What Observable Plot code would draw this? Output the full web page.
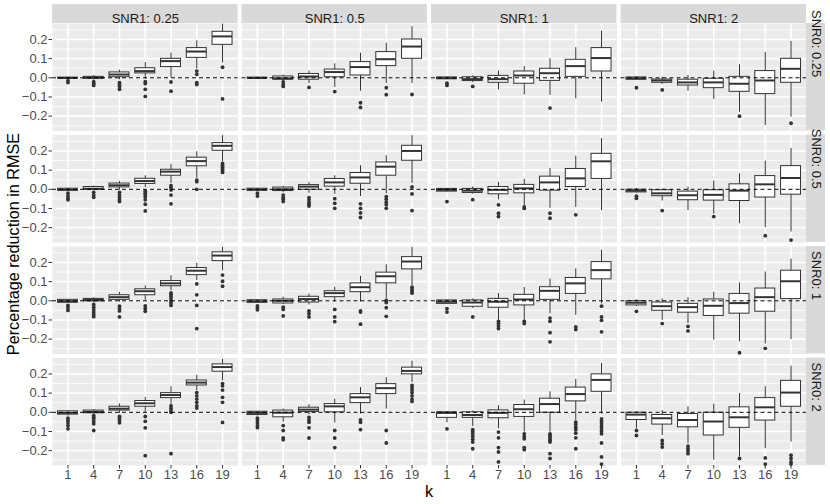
<!DOCTYPE html>
<html>
<head>
<meta charset="utf-8">
<script src="https://cdn.jsdelivr.net/npm/d3@7"></script>
<script src="https://cdn.jsdelivr.net/npm/@observablehq/plot@0.6"></script>
<style>
  html, body { margin: 0; padding: 0; background: white; }
  #chart { width: 830px; height: 504px; }
</style>
</head>
<body>
<div id="chart"></div>
<script>
// ---- categories ----
const snr1Levels = ["0.25", "0.5", "1", "2"];   // columns
const snr0Levels = ["0.25", "0.5", "1", "2"];   // rows
const kLevels = [1, 4, 7, 10, 13, 16, 19];
const yTicks = [-0.2, -0.1, 0, 0.1, 0.2];
const yMinorTicks = [-0.25, -0.15, -0.05, 0.05, 0.15, 0.25];

// ---- box statistics: one row of 7 (k) per facet, facets ordered SNR0 row by SNR1 column ----
const whiskerLow = [
  [-0.006, -0.012, -0.010, -0.007, 0.000, 0.047, 0.077],
  [-0.004, -0.016, -0.030, -0.050, -0.070, -0.030, -0.030],
  [-0.010, -0.025, -0.063, -0.089, -0.092, -0.110, -0.127],
  [-0.012, -0.035, -0.070, -0.113, -0.180, -0.249, -0.205],
  [-0.010, -0.008, -0.003, 0.009, 0.030, 0.057, 0.144],
  [-0.010, -0.018, -0.021, -0.026, -0.038, -0.024, 0.031],
  [-0.014, -0.025, -0.055, -0.085, -0.099, -0.094, -0.111],
  [-0.020, -0.061, -0.111, -0.130, -0.180, -0.199, -0.223],
  [-0.014, -0.010, -0.007, 0.002, 0.053, 0.105, 0.157],
  [-0.013, -0.020, -0.022, -0.007, -0.007, 0.010, 0.079],
  [-0.020, -0.040, -0.102, -0.102, -0.067, -0.076, -0.016],
  [-0.030, -0.102, -0.119, -0.205, -0.214, -0.225, -0.202],
  [-0.020, -0.010, -0.005, -0.002, 0.040, 0.112, 0.164],
  [-0.020, -0.052, -0.014, -0.057, -0.009, 0.017, 0.155],
  [-0.055, -0.074, -0.086, -0.103, -0.103, -0.043, -0.009],
  [-0.085, -0.121, -0.164, -0.250, -0.233, -0.190, -0.155]
];
const quartile1 = [
  [-0.003, -0.005, 0.003, 0.023, 0.056, 0.104, 0.172],
  [-0.002, -0.010, -0.010, 0.003, 0.012, 0.061, 0.099],
  [-0.007, -0.017, -0.026, -0.031, -0.016, 0.005, 0.033],
  [-0.010, -0.026, -0.040, -0.054, -0.073, -0.085, -0.026],
  [-0.007, -0.002, 0.010, 0.028, 0.071, 0.120, 0.201],
  [-0.007, -0.009, -0.002, 0.014, 0.029, 0.071, 0.149],
  [-0.012, -0.019, -0.026, -0.021, -0.007, 0.012, 0.054],
  [-0.016, -0.036, -0.057, -0.059, -0.061, -0.043, -0.028],
  [-0.010, -0.003, 0.005, 0.029, 0.076, 0.134, 0.207],
  [-0.010, -0.014, -0.009, 0.019, 0.045, 0.091, 0.164],
  [-0.016, -0.031, -0.036, -0.024, 0.005, 0.036, 0.112],
  [-0.024, -0.052, -0.062, -0.079, -0.067, -0.057, 0.009],
  [-0.012, -0.005, 0.009, 0.029, 0.074, 0.140, 0.212],
  [-0.014, -0.026, 0.002, 0.000, 0.048, 0.095, 0.198],
  [-0.029, -0.029, -0.031, -0.024, -0.002, 0.057, 0.107],
  [-0.040, -0.064, -0.078, -0.121, -0.081, -0.043, 0.029]
];
const median = [
  [-0.001, 0.001, 0.017, 0.035, 0.087, 0.137, 0.216],
  [-0.001, -0.003, 0.007, 0.030, 0.056, 0.097, 0.163],
  [-0.002, -0.007, -0.007, 0.012, 0.024, 0.061, 0.103],
  [-0.003, -0.014, -0.024, -0.024, -0.031, -0.014, 0.047],
  [-0.002, 0.003, 0.021, 0.043, 0.092, 0.147, 0.227],
  [-0.002, 0.000, 0.014, 0.036, 0.062, 0.118, 0.200],
  [-0.003, -0.007, -0.003, 0.005, 0.036, 0.057, 0.146],
  [-0.007, -0.021, -0.031, -0.029, -0.007, 0.026, 0.059],
  [-0.002, 0.005, 0.019, 0.050, 0.091, 0.157, 0.236],
  [-0.003, 0.000, 0.009, 0.040, 0.071, 0.128, 0.205],
  [-0.005, -0.009, -0.005, 0.007, 0.052, 0.091, 0.160],
  [-0.010, -0.028, -0.033, -0.026, -0.012, 0.019, 0.102],
  [-0.003, 0.002, 0.019, 0.047, 0.090, 0.155, 0.236],
  [-0.003, -0.002, 0.014, 0.031, 0.078, 0.126, 0.216],
  [-0.003, -0.014, -0.003, 0.016, 0.043, 0.095, 0.169],
  [-0.012, -0.031, -0.040, -0.048, -0.026, 0.026, 0.103]
];
const quartile3 = [
  [0.001, 0.005, 0.028, 0.050, 0.099, 0.155, 0.240],
  [0.001, 0.007, 0.020, 0.043, 0.082, 0.134, 0.200],
  [0.002, 0.003, 0.010, 0.033, 0.047, 0.094, 0.155],
  [0.002, -0.009, -0.010, -0.005, 0.005, 0.035, 0.099],
  [0.003, 0.012, 0.030, 0.055, 0.102, 0.165, 0.241],
  [0.003, 0.009, 0.022, 0.054, 0.085, 0.140, 0.227],
  [0.002, 0.002, 0.012, 0.023, 0.066, 0.106, 0.185],
  [-0.002, -0.005, -0.012, -0.005, 0.026, 0.069, 0.121],
  [0.005, 0.010, 0.029, 0.060, 0.103, 0.171, 0.253],
  [0.003, 0.007, 0.021, 0.050, 0.091, 0.147, 0.228],
  [0.002, 0.002, 0.010, 0.031, 0.071, 0.119, 0.202],
  [-0.002, -0.009, -0.016, 0.007, 0.036, 0.064, 0.157],
  [0.005, 0.009, 0.029, 0.059, 0.100, 0.166, 0.250],
  [0.003, 0.009, 0.024, 0.043, 0.095, 0.147, 0.233],
  [0.000, 0.000, 0.010, 0.038, 0.071, 0.129, 0.198],
  [-0.002, -0.014, -0.009, -0.002, 0.026, 0.074, 0.164]
];
const whiskerHigh = [
  [0.003, 0.012, 0.040, 0.080, 0.129, 0.193, 0.280],
  [0.003, 0.014, 0.035, 0.073, 0.128, 0.180, 0.268],
  [0.004, 0.010, 0.035, 0.059, 0.099, 0.157, 0.243],
  [0.007, 0.003, 0.012, 0.035, 0.068, 0.132, 0.190],
  [0.005, 0.017, 0.040, 0.071, 0.130, 0.196, 0.280],
  [0.005, 0.016, 0.035, 0.071, 0.123, 0.175, 0.280],
  [0.004, 0.012, 0.036, 0.052, 0.109, 0.173, 0.265],
  [0.005, 0.002, 0.012, 0.043, 0.081, 0.147, 0.213],
  [0.007, 0.016, 0.043, 0.078, 0.131, 0.195, 0.278],
  [0.005, 0.019, 0.036, 0.071, 0.128, 0.188, 0.278],
  [0.004, 0.010, 0.038, 0.069, 0.114, 0.167, 0.264],
  [0.005, 0.010, 0.016, 0.045, 0.093, 0.150, 0.217],
  [0.007, 0.014, 0.043, 0.078, 0.133, 0.193, 0.276],
  [0.005, 0.017, 0.040, 0.069, 0.129, 0.181, 0.267],
  [0.002, 0.007, 0.034, 0.064, 0.107, 0.172, 0.255],
  [0.002, 0.009, 0.029, 0.043, 0.098, 0.133, 0.241]
];
const outliers = [
  [[-0.015, -0.025], [-0.02, -0.03, -0.04], [-0.025, -0.035, -0.045, -0.06], [-0.02, -0.03, -0.06, -0.097], [-0.022, -0.07], [0.035, 0.018, -0.025, -0.035], [0.055, -0.11]],
  [[], [-0.021, -0.035, -0.045], [-0.05], [-0.072], [-0.13, -0.155], [-0.052, -0.088], [-0.087]],
  [[-0.028, -0.04], [-0.045], [], [], [-0.158], [], []],
  [[-0.052], [-0.063], [], [], [-0.2], [], [-0.237]],
  [[-0.02, -0.035, -0.047, -0.055], [-0.016, -0.03, -0.042], [-0.016, -0.03, -0.043, -0.055, -0.064], [-0.01, -0.02, -0.03, -0.04, -0.055, -0.078, -0.113], [0.019, 0.009, -0.003, -0.03, -0.076], [0.048, 0.04, 0.0], [0.135, 0.125, 0.115, 0.105, 0.095, 0.088]],
  [[-0.02, -0.035], [-0.03, -0.042, -0.052, -0.064], [-0.043, -0.055, -0.068, -0.078, -0.087], [-0.049, -0.073, -0.099], [-0.076, -0.099, -0.123, -0.147], [-0.038, -0.052, -0.068, -0.081, -0.099], [0.012, -0.024, -0.111]],
  [[-0.064], [-0.054], [-0.081, -0.125, -0.142], [-0.092, -0.1], [-0.125, -0.151], [-0.133], []],
  [[-0.036, -0.047], [-0.111], [], [-0.142], [], [-0.242], [-0.265]],
  [[-0.024, -0.036, -0.05], [-0.019, -0.033, -0.047, -0.059, -0.071, -0.083], [-0.028, -0.041, -0.053, -0.084], [-0.026, -0.04, -0.055], [0.041, 0.033, 0.022, 0.01, -0.002, -0.012, -0.024], [0.088, 0.031, -0.024, -0.145], [0.134, 0.102, 0.076]],
  [[-0.026, -0.036, -0.047], [-0.033, -0.045, -0.079], [-0.053, -0.067, -0.084], [-0.045, -0.084, -0.109], [-0.053, -0.059, -0.122], [0.002, -0.009, -0.036, -0.081], [0.071, 0.06, 0.05, 0.04]],
  [[-0.041, -0.059], [-0.084], [-0.107, -0.119, -0.131, -0.145], [-0.107, -0.119], [-0.09, -0.107, -0.166, -0.214], [-0.136, -0.15], [-0.028, -0.084, -0.102, -0.162]],
  [[-0.055], [-0.119], [-0.133, -0.157], [], [-0.271], [-0.248], []],
  [[-0.031, -0.043, -0.055, -0.069, -0.086], [-0.017, -0.026, -0.034, -0.047, -0.06, -0.095], [-0.021, -0.031, -0.043, -0.055], [-0.022, -0.047, -0.081, -0.226], [0.034, 0.022, 0.012, 0.0, -0.216], [0.103, 0.086, 0.069, 0.052, 0.034, 0.022], [0.15, 0.138, 0.116, 0.078, 0.052, -0.053]],
  [[-0.031, -0.043, -0.055, -0.069, -0.08], [-0.069, -0.095, -0.133, -0.143], [-0.026, -0.04, -0.052, -0.081, -0.134], [-0.095, -0.134, -0.184], [-0.04, -0.052, -0.09], [-0.095, -0.16], [0.141, 0.129, 0.117, 0.103, 0.086, 0.069, 0.057]],
  [[-0.086], [-0.09, -0.1, -0.11, -0.125, -0.14, -0.155, -0.19], [-0.103, -0.133, -0.184, -0.207, -0.259], [-0.112, -0.126, -0.138, -0.184, -0.195], [-0.112, -0.121, -0.129, -0.138, -0.147, -0.155, -0.216, -0.241], [-0.052, -0.064, -0.078, -0.091, -0.109, -0.133, -0.19], [-0.034, -0.047, -0.06, -0.074, -0.086, -0.1, -0.112, -0.16, -0.233, -0.27]],
  [[-0.095, -0.121], [-0.147, -0.164, -0.181], [-0.176, -0.19, -0.202, -0.216], [], [-0.241], [-0.238, -0.27], [-0.224, -0.241, -0.259, -0.27]]
];

// ---- build tables ----
const boxes = [];
const points = [];
snr0Levels.forEach((s0, r) => {
  snr1Levels.forEach((s1, c) => {
    const f = r * 4 + c;
    kLevels.forEach((k, j) => {
      boxes.push({snr0: s0, snr1: s1, kx: j, lo: whiskerLow[f][j], q1: quartile1[f][j],
                  med: median[f][j], q3: quartile3[f][j], hi: whiskerHigh[f][j]});
      outliers[f][j].forEach(v => points.push({snr0: s0, snr1: s1, kx: j, v}));
    });
  });
});

// ---- layout (pixels) ----
const W = 830, H = 504;
const mL = 52, mR = 24, mT = 23, mB = 39;
const gap = 4, stripPx = 19;
const panelW = (W - mL - mR - 3 * gap) / 4;
const panelH = (H - mT - mB - 3 * gap) / 4;
const xDomain = [-0.6, kLevels.length - 1 + 0.6];
const yDomain = [-0.2775, 0.2833];
const xUnitPx = panelW / (xDomain[1] - xDomain[0]);
const yUnitPx = panelH / (yDomain[1] - yDomain[0]);
const halfBox = 0.3875;
const ink = "#333333";
const font = "'Liberation Sans', Arial, Helvetica, sans-serif";
const smallSize = 13;
const titleSize = 16.2;

const chart = Plot.plot({
  width: W, height: H,
  marginLeft: mL, marginRight: mR, marginTop: mT, marginBottom: mB,
  style: {fontFamily: font, fontSize: smallSize + "px", background: "white", overflow: "visible"},
  x: {domain: xDomain, nice: false},
  y: {domain: yDomain, nice: false},
  fx: {domain: snr1Levels, paddingInner: gap / (panelW + gap), paddingOuter: 0, round: false, axis: null, label: null},
  fy: {domain: snr0Levels, paddingInner: gap / (panelH + gap), paddingOuter: 0, round: false, axis: null, label: null},
  marks: [
    Plot.frame({fill: "#EBEBEB", stroke: "none"}),
    Plot.gridY(yMinorTicks, {stroke: "white", strokeOpacity: 1, strokeWidth: 0.8}),
    Plot.gridY(yTicks, {stroke: "white", strokeOpacity: 1, strokeWidth: 1.6}),
    Plot.gridX(d3.range(kLevels.length), {stroke: "white", strokeOpacity: 1, strokeWidth: 1.6}),
    // whiskers
    Plot.ruleX(boxes, {x: "kx", y1: "lo", y2: "q1", fx: "snr1", fy: "snr0", stroke: ink, strokeWidth: 1}),
    Plot.ruleX(boxes, {x: "kx", y1: "q3", y2: "hi", fx: "snr1", fy: "snr0", stroke: ink, strokeWidth: 1}),
    // boxes
    Plot.rect(boxes, {x1: d => d.kx - halfBox, x2: d => d.kx + halfBox, y1: "q1", y2: "q3",
                      fx: "snr1", fy: "snr0", fill: "white", stroke: ink, strokeWidth: 1}),
    // medians
    Plot.ruleY(boxes, {y: "med", x1: d => d.kx - halfBox, x2: d => d.kx + halfBox,
                       fx: "snr1", fy: "snr0", stroke: ink, strokeWidth: 2}),
    // outliers
    Plot.dot(points, {x: "kx", y: "v", fx: "snr1", fy: "snr0", r: 1.9, fill: ink, stroke: "none"}),
    // zero reference
    Plot.ruleY([0], {stroke: "black", strokeWidth: 1, strokeDasharray: "4,3"}),
    // top strips
    Plot.rect(snr1Levels, {fx: d => d, fy: () => snr0Levels[0],
                           y1: () => yDomain[1], y2: () => yDomain[1] + stripPx / yUnitPx, fill: "#D9D9D9"}),
    Plot.text(snr1Levels, {fx: d => d, fy: () => snr0Levels[0], text: d => `SNR1: ${d}`,
                           frameAnchor: "top", dy: -stripPx / 2, fill: "#1A1A1A", fontSize: smallSize}),
    // right strips
    Plot.rect(snr0Levels, {fy: d => d, fx: () => snr1Levels[3],
                           x1: () => xDomain[1], x2: () => xDomain[1] + stripPx / xUnitPx, fill: "#D9D9D9"}),
    Plot.text(snr0Levels, {fy: d => d, fx: () => snr1Levels[3], text: d => `SNR0: ${d}`,
                           frameAnchor: "right", dx: stripPx / 2, rotate: 90, fill: "#1A1A1A", fontSize: smallSize}),
    // axes
    Plot.axisY(yTicks, {tickFormat: d3.format(".1f"), tickSize: 3.5, tickPadding: 1.5,
                        color: "#4D4D4D", stroke: ink, fontSize: smallSize, label: null}),
    Plot.axisX(d3.range(kLevels.length), {tickFormat: i => String(kLevels[i]), tickSize: 3.5, tickPadding: 1,
                        color: "#4D4D4D", stroke: ink, fontSize: smallSize, label: null})
  ]
});

const svg = d3.select(chart);
svg.append("text")
  .attr("transform", `translate(13,${mT + (H - mT - mB) / 2}) rotate(-90)`)
  .attr("text-anchor", "middle").attr("dominant-baseline", "central")
  .attr("font-size", titleSize).attr("fill", "black")
  .text("Percentage reduction in RMSE");
svg.append("text")
  .attr("x", mL + (W - mL - mR) / 2).attr("y", 491)
  .attr("text-anchor", "middle").attr("dominant-baseline", "central")
  .attr("font-size", titleSize).attr("fill", "black")
  .text("k");

document.getElementById("chart").appendChild(chart);
</script>
</body>
</html>
